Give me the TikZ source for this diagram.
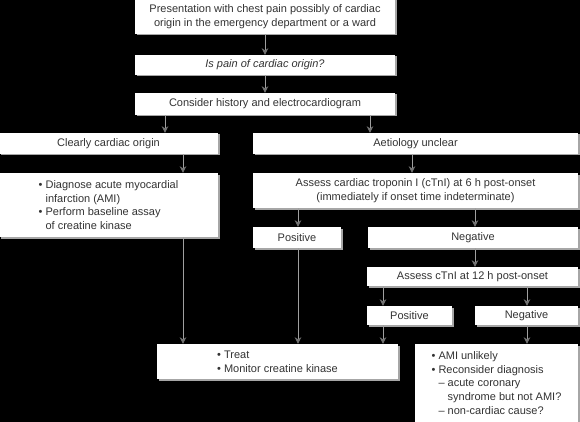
\documentclass[tikz,border=0pt]{standalone}
\usepackage{fontspec}
\setmainfont{Liberation Sans}
\usetikzlibrary{arrows.meta,shadows}
\newcommand{\bl}{\textbullet~}
\newcommand{\ind}{\phantom{\textbullet~}}

\begin{document}
\begin{tikzpicture}[x=1pt,y=-1pt,
  box/.style={fill=white, text=black!80, inner sep=0pt,
    font=\fontsize{11}{13.6}\selectfont, align=center,
    drop shadow={shadow xshift=1.5pt, shadow yshift=-1.5pt, fill=gray!70, opacity=1}},
  arr/.style={draw=gray!75, line width=0.8pt, -{Stealth[length=6.5pt, width=6.5pt, inset=2pt, color=gray!90!black, fill=gray!90!black]}}]
  \fill[black] (0,0) rectangle (580,422);
  \useasboundingbox (0,0) rectangle (580,422);

  \node[box, minimum width=260pt, minimum height=35pt] (pres) at (265, 16.5)
    {Presentation with chest pain possibly of cardiac\\origin in the emergency department or a ward};
  \node[box, minimum width=260pt, minimum height=20pt] (q) at (265, 65) {\itshape Is pain of cardiac origin?};
  \node[box, minimum width=260pt, minimum height=22pt] (hist) at (265, 104) {Consider history and electrocardiogram};

  \node[box, minimum width=219pt, minimum height=21pt] (clear) at (108.5, 143.5) {Clearly cardiac origin};
  \node[box, minimum width=219pt, minimum height=64pt, align=left] (diag) at (108.5, 205)
    {\bl Diagnose acute myocardial\\\ind infarction (AMI)\\\bl Perform baseline assay\\\ind of creatine kinase};

  \node[box, minimum width=325pt, minimum height=21pt] (aet) at (415.5, 143.5) {Aetiology unclear};
  \node[box, minimum width=325pt, minimum height=35pt] (tn6) at (415.5, 190.5)
    {Assess cardiac troponin I (cTnI) at 6 h post-onset\\(immediately if onset time indeterminate)};
  \node[box, minimum width=88pt, minimum height=21pt] (pos1) at (297, 237.5) {Positive};
  \node[box, minimum width=210pt, minimum height=21pt] (neg1) at (473, 237.5) {Negative};
  \node[box, minimum width=211pt, minimum height=19pt] (tn12) at (472.5, 276.5) {Assess cTnI at 12 h post-onset};
  \node[box, minimum width=85pt, minimum height=19pt] (pos2) at (409.5, 315.5) {Positive};
  \node[box, minimum width=103pt, minimum height=19pt] (neg2) at (526.5, 315.5) {Negative};

  \node[box, minimum width=241pt, minimum height=35pt, align=left] (treat) at (277.5, 361.5)
    {\bl Treat\\\bl Monitor creatine kinase};
  \node[box, minimum width=163pt, minimum height=78pt, align=left] (amiun) at (496.5, 383)
    {\bl AMI unlikely\\\bl Reconsider diagnosis\\\ind -- acute coronary\\\ind\phantom{-- }syndrome but not AMI?\\\ind -- non-cardiac cause?};

  \draw[arr] (pres) -- (q);
  \draw[arr] (q) -- (hist);
  \draw[arr] (hist.south -| 165,0) -- (clear.north -| 165,0);
  \draw[arr] (hist.south -| 370,0) -- (aet.north -| 370,0);
  \draw[arr] (clear.south -| 183,0) -- (diag.north -| 183,0);
  \draw[arr] (diag.south -| 183,0) -- (treat.north -| 183,0);
  \draw[arr] (aet.south -| 412,0) -- (tn6.north -| 412,0);
  \draw[arr] (tn6.south -| 298,0) -- (pos1.north -| 298,0);
  \draw[arr] (tn6.south -| 475,0) -- (neg1.north -| 475,0);
  \draw[arr] (pos1.south -| 298,0) -- (treat.north -| 298,0);
  \draw[arr] (neg1.south -| 475,0) -- (tn12.north -| 475,0);
  \draw[arr] (tn12.south -| 383,0) -- (pos2.north -| 383,0);
  \draw[arr] (tn12.south -| 527,0) -- (neg2.north -| 527,0);
  \draw[arr] (pos2.south -| 383,0) -- (treat.north -| 383,0);
  \draw[arr] (neg2.south -| 527,0) -- (amiun.north -| 527,0);
\end{tikzpicture}
\end{document}
